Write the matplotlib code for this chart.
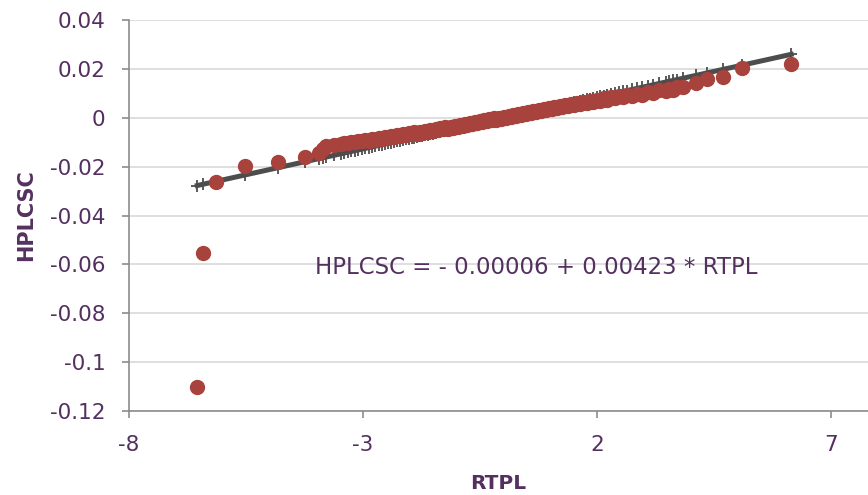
import numpy as np
import matplotlib
matplotlib.use("Agg")
import matplotlib.pyplot as plt

# RTPL (x) and HPLCSC (y) values
rtpl = [-6.54, -6.42, -6.14, -5.52, -4.81, -4.23, -3.93, -3.85, -3.78, -3.62,
        -3.48, -3.41, -3.33, -3.25, -3.17, -3.10, -3.02, -2.95, -2.88, -2.80,
        -2.74, -2.66, -2.60, -2.52, -2.47, -2.40, -2.33, -2.27, -2.21, -2.14,
        -2.08, -2.02, -1.96, -1.90, -1.85, -1.79, -1.73, -1.67, -1.62, -1.56,
        -1.51, -1.45, -1.40, -1.35, -1.29, -1.24, -1.19, -1.13, -1.08, -1.03,
        -0.98, -0.92, -0.87, -0.82, -0.77, -0.72, -0.67, -0.61, -0.56, -0.51,
        -0.46, -0.41, -0.36, -0.31, -0.25, -0.20, -0.15, -0.10, -0.05, 0.01,
        0.06, 0.11, 0.16, 0.21, 0.27, 0.32, 0.37, 0.42, 0.48, 0.53,
        0.58, 0.64, 0.69, 0.75, 0.80, 0.86, 0.91, 0.97, 1.03, 1.09,
        1.14, 1.20, 1.26, 1.32, 1.39, 1.45, 1.51, 1.58, 1.64, 1.71,
        1.78, 1.85, 1.92, 1.99, 2.07, 2.14, 2.22, 2.30, 2.38, 2.47,
        2.56, 2.65, 2.75, 2.85, 2.96, 3.08, 3.20, 3.33, 3.47, 3.54,
        3.62, 3.70, 3.84, 4.12, 4.36, 4.70, 5.10, 6.15]
hplcsc = [-0.1100, -0.0555, -0.0262, -0.0196, -0.0180, -0.0160, -0.0143, -0.0127, -0.0116, -0.0110,
          -0.0108, -0.0102, -0.0105, -0.0098, -0.0101, -0.0094, -0.0097, -0.0091, -0.0094, -0.0087,
          -0.0090, -0.0083, -0.0087, -0.0079, -0.0083, -0.0075, -0.0079, -0.0071, -0.0076, -0.0068,
          -0.0072, -0.0064, -0.0068, -0.0060, -0.0065, -0.0057, -0.0061, -0.0053, -0.0057, -0.0049,
          -0.0054, -0.0046, -0.0050, -0.0043, -0.0047, -0.0039, -0.0044, -0.0036, -0.0040, -0.0032,
          -0.0037, -0.0029, -0.0033, -0.0025, -0.0029, -0.0022, -0.0026, -0.0018, -0.0022, -0.0014,
          -0.0019, -0.0011, -0.0015, -0.0007, -0.0011, -0.0003, -0.0008, 0.0000, -0.0004, 0.0004,
          0.0000, 0.0008, 0.0004, 0.0012, 0.0008, 0.0016, 0.0012, 0.0020, 0.0016, 0.0024,
          0.0020, 0.0028, 0.0024, 0.0032, 0.0028, 0.0036, 0.0032, 0.0040, 0.0036, 0.0044,
          0.0040, 0.0048, 0.0044, 0.0052, 0.0047, 0.0056, 0.0051, 0.0060, 0.0056, 0.0065,
          0.0060, 0.0069, 0.0065, 0.0074, 0.0069, 0.0079, 0.0074, 0.0083, 0.0079, 0.0088,
          0.0084, 0.0093, 0.0089, 0.0099, 0.0095, 0.0106, 0.0102, 0.0114, 0.0111, 0.0119,
          0.0115, 0.0124, 0.0127, 0.0141, 0.0158, 0.0168, 0.0202, 0.0220]

# regression from the chart text
intercept = -0.00006
slope = 0.00423
equation = "HPLCSC = - 0.00006 + 0.00423 * RTPL"

xticks = [-8, -3, 2, 7]
yticks = [0.04, 0.02, 0, -0.02, -0.04, -0.06, -0.08, -0.1, -0.12]
ytick_labels = ["0.04", "0.02", "0", "-0.02", "-0.04", "-0.06", "-0.08", "-0.1", "-0.12"]

txt = "#53305F"
axis_gray = "#8C8C8C"

fig = plt.figure(figsize=(8.68, 4.95), dpi=100)
ax = fig.add_axes([129 / 868, 1 - 411 / 495, 1 - 129 / 868, (411 - 20) / 495])

# fitted line with a tick at each fitted value
x = np.array(rtpl)
order = np.argsort(x)
fitted = intercept + slope * x[order]
ax.plot(x[order], fitted, color="#4D4D4D", lw=3.6, solid_capstyle="projecting",
        marker="+", ms=9, mew=1.3, zorder=3)

ax.scatter(rtpl, hplcsc, s=100, color="#A8423D", edgecolors="#A8423D", zorder=4)

# equation label, placed in figure pixels (origin bottom left)
ax.annotate(equation, xy=(315, 495 - 268), xycoords="figure pixels", color=txt,
            fontsize=16.5, va="center", ha="left")

ax.set_xlim(-8, -8 + (868 - 129) / 46.8)
ax.set_ylim(-0.12, 0.04)
ax.set_xticks(xticks)
ax.set_xticklabels([str(v) for v in xticks])
ax.set_yticks(yticks)
ax.set_yticklabels(ytick_labels)

ax.grid(axis="y", color="#D9D9D9", lw=1.2)
ax.set_axisbelow(True)
for side in ["top", "right"]:
    ax.spines[side].set_visible(False)
for side in ["left", "bottom"]:
    ax.spines[side].set_color(axis_gray)
    ax.spines[side].set_linewidth(1.2)

ax.tick_params(axis="both", direction="out", length=5, width=1.2, color=axis_gray,
               labelcolor=txt, labelsize=15.5, pad=12)

ax.set_xlabel("RTPL", color=txt, fontsize=14.5, fontweight="bold", labelpad=14)
ax.set_ylabel("HPLCSC", color=txt, fontsize=15, fontweight="bold", labelpad=10)

fig.savefig("out.png", dpi=100)
